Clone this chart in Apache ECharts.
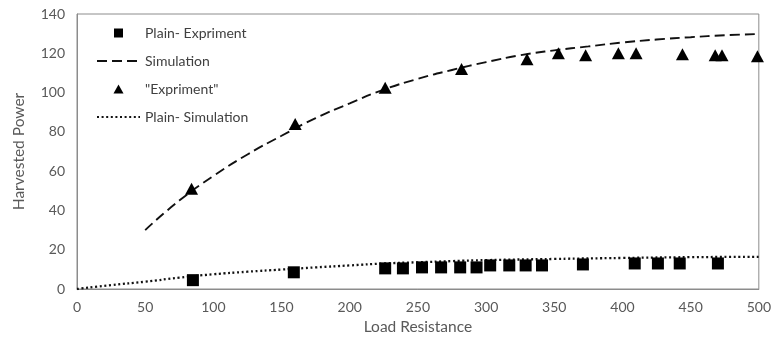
<!DOCTYPE html>
<html><head><meta charset="utf-8">
<script src="https://cdn.jsdelivr.net/npm/echarts@6/dist/echarts.min.js"></script>
<style>html,body{margin:0;padding:0;background:#fff}#c{width:774px;height:340px}</style>
</head><body><div id="c"></div>
<script>
const xTicks = [0, 50, 100, 150, 200, 250, 300, 350, 400, 450, 500];
const yTicks = [0, 20, 40, 60, 80, 100, 120, 140];

const plainExpX = [85, 159, 226, 239, 253, 267, 281, 293, 303, 317, 329, 341, 371, 409, 426, 442, 470];
const plainExpY = [4.5, 8.5, 10.5, 10.5, 11, 11, 11, 11, 12, 12, 12, 12, 12.5, 13, 13, 13, 13];

const simX = [50, 75, 100, 125, 150, 175, 200, 225, 250, 275, 300, 325, 350, 375, 400, 425, 450, 475, 500];
const simY = [30, 45, 57.5, 68.5, 78, 87, 94.5, 101.5, 107, 111.5, 115.5, 119, 121.5, 123.5, 125.5, 127, 128.2, 129.2, 129.8];

const expX = [84, 160, 226, 282, 330, 353, 373, 397, 410, 444, 468, 473, 499];
const expY = [51, 84, 102.5, 112, 117, 120, 119, 120, 120, 119.5, 119, 119, 118.5];

const plainSimX = [0, 25, 50, 75, 100, 125, 150, 175, 200, 225, 250, 275, 300, 350, 400, 450, 500];
const plainSimY = [0, 2, 3.7, 5.8, 7.5, 8.8, 9.9, 11, 12, 13, 13.6, 14.2, 14.7, 15.3, 15.8, 16.2, 16.4];

const zip = (a, b) => a.map((v, i) => [v, b[i]]);
const FONT = 'Lato';
const hiddenDot = { color: 'rgba(0,0,0,0)', borderWidth: 0, opacity: 0 };
const chart = echarts.init(document.getElementById('c'));
chart.setOption({
  animation: false,
  backgroundColor: '#fff',
  textStyle: { fontFamily: FONT },
  grid: { left: 77, right: 14, top: 14, bottom: 50, show: true, borderColor: '#8c8c8c', borderWidth: 1 },
  legend: {
    orient: 'vertical', left: 96, top: 26, padding: 0, itemWidth: 43, itemHeight: 9, itemGap: 14,
    textStyle: { fontFamily: FONT, fontSize: 14, color: '#404040' },
    data: [
      { name: 'Plain- Expriment', icon: 'path://M0,0L10,0L10,10L0,10Z' },
      { name: 'Simulation', itemStyle: hiddenDot },
      { name: '"Expriment"', icon: 'path://M5,0L10,9L0,9Z' },
      { name: 'Plain- Simulation', itemStyle: hiddenDot }
    ]
  },
  xAxis: {
    type: 'value', min: 0, max: 500, interval: 50,
    name: 'Load Resistance', nameLocation: 'middle', nameGap: 30,
    nameTextStyle: { fontFamily: FONT, fontSize: 15.5, color: '#595959' },
    axisLine: { lineStyle: { color: '#8c8c8c' } },
    axisTick: { show: false },
    splitLine: { show: false },
    axisLabel: { fontFamily: FONT, fontSize: 14, color: '#595959', margin: 11,
      formatter: v => xTicks.includes(v) ? String(v) : '' }
  },
  yAxis: {
    type: 'value', min: 0, max: 140, interval: 20,
    name: 'Harvested Power', nameLocation: 'middle', nameGap: 50,
    nameTextStyle: { fontFamily: FONT, fontSize: 15.5, color: '#595959' },
    axisLine: { show: true, lineStyle: { color: '#8c8c8c' } },
    axisTick: { show: false },
    splitLine: { show: false },
    axisLabel: { fontFamily: FONT, fontSize: 14, color: '#595959', margin: 12,
      formatter: v => yTicks.includes(v) ? String(v) : '' }
  },
  series: [
    { name: 'Plain- Expriment', type: 'scatter', symbol: 'rect', symbolSize: 12,
      itemStyle: { color: '#000', opacity: 1 }, data: zip(plainExpX, plainExpY), z: 3 },
    { name: 'Simulation', type: 'line', smooth: true, symbol: 'none',
      lineStyle: { color: '#111', width: 1.9, type: [10, 5] },
      itemStyle: { color: '#111' }, data: zip(simX, simY), z: 2 },
    { name: '"Expriment"', type: 'scatter', symbol: 'triangle', symbolSize: [13, 12],
      itemStyle: { color: '#000', opacity: 1 }, data: zip(expX, expY), z: 3 },
    { name: 'Plain- Simulation', type: 'line', smooth: true, symbol: 'none',
      lineStyle: { color: '#111', width: 2.3, type: [2, 2.6] },
      itemStyle: { color: '#111' }, data: zip(plainSimX, plainSimY), z: 2 }
  ]
});
</script></body></html>
